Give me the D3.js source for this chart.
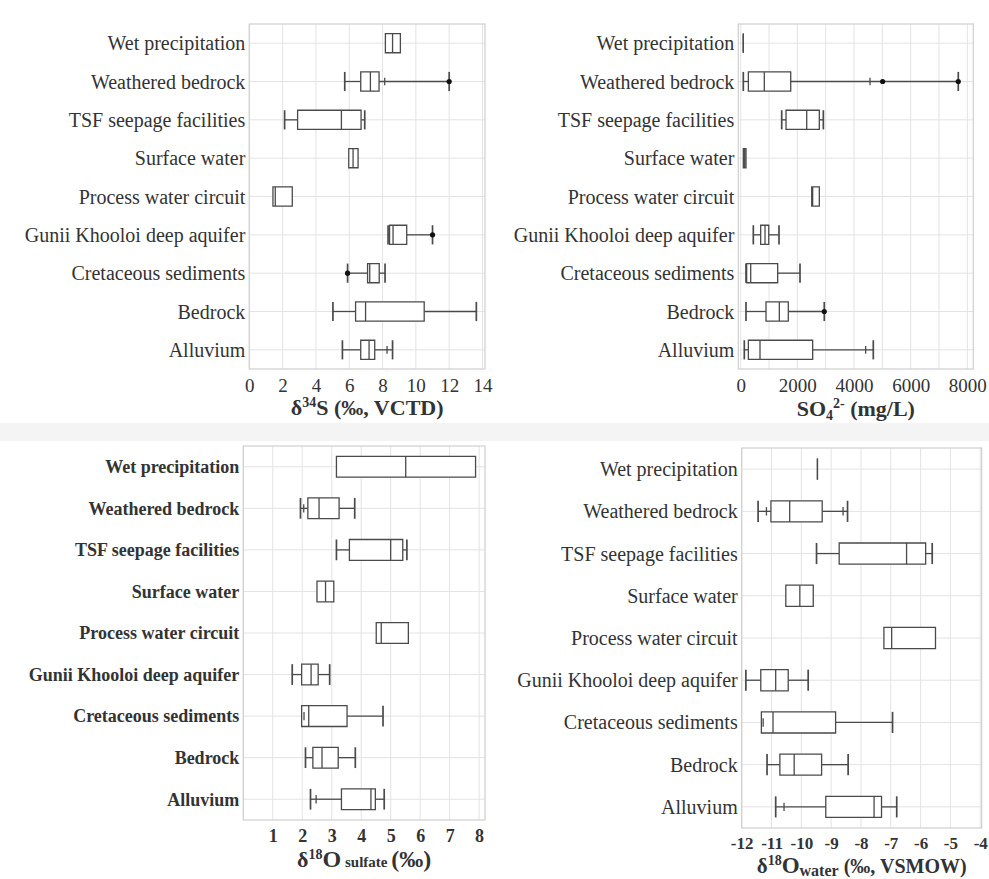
<!DOCTYPE html>
<html><head><meta charset="utf-8">
<script src="https://cdn.jsdelivr.net/npm/d3@7"></script>
<style>body{margin:0;background:#fff}svg{display:block}</style>
</head><body>
<svg id="chart" width="989" height="879"></svg>
<script>
const categories = ["Wet precipitation","Weathered bedrock","TSF seepage facilities","Surface water","Process water circuit","Gunii Khooloi deep aquifer","Cretaceous sediments","Bedrock","Alluvium"];

// Panel 1: d34S
const s34Ticks = [0,2,4,6,8,10,12,14];
const s34Lo  = [null, 5.73, 2.12, null, null, 8.33, 5.9, 5.02, 5.59];
const s34Q1  = [8.17, 6.69, 2.9, 5.97, 1.42, 8.42, 7.1, 6.38, 6.69];
const s34Med = [8.6, 7.27, 5.53, 6.23, 1.56, 8.63, 7.23, 6.98, 7.19];
const s34Q3  = [9.07, 7.79, 6.71, 6.53, 2.58, 9.45, 7.8, 10.5, 7.53];
const s34Hi  = [null, 12.0, 6.93, null, null, 11.0, 8.15, 13.63, 8.6];
const s34Dots = [[], [12.0], [], [], [], [11.0], [5.9], [], []];
const s34Marks = [[], [8.13], [], [], [], [], [], [], [8.27]];

// Panel 2: SO4
const so4Ticks = [0,2000,4000,6000,8000];
const so4Grid = [0,1000,2000,3000,4000,5000,6000,7000,8000];
const so4Lo  = [null, 92, 1447, null, null, 445, 187, 187, 127];
const so4Q1  = [90, 270, 1600, 92, 2506, 705, 210, 893, 270];
const so4Med = [90, 833, 2330, 140, 2540, 858, 353, 1363, 681];
const so4Q3  = [90, 1765, 2775, 187, 2775, 990, 1305, 1680, 2540];
const so4Hi  = [null, 7680, 2917, null, null, 1352, 2093, 2950, 4680];
const so4Dots = [[], [5010, 7680], [], [], [], [], [], [2950], []];
const so4Marks = [[], [4565], [], [], [], [], [], [], [4410]];

// Panel 3: d18O sulfate
const o18sTicks = [1,2,3,4,5,6,7,8];
const o18sGrid = [0,1,2,3,4,5,6,7,8];
const o18sLo  = [null, 1.94, 3.16, null, null, 1.66, null, 2.11, 2.28];
const o18sQ1  = [3.16, 2.19, 3.6, 2.5, 4.51, 1.98, 1.98, 2.36, 3.33];
const o18sMed = [5.51, 2.57, 5.0, 2.79, 4.68, 2.3, 2.22, 2.67, 4.33];
const o18sQ3  = [7.88, 3.25, 5.41, 3.07, 5.6, 2.54, 3.52, 3.22, 4.48];
const o18sHi  = [null, 3.78, 5.55, null, null, 2.93, 4.74, 3.8, 4.78];
const o18sDots = [[], [], [], [], [], [], [], [], []];
const o18sMarks = [[], [2.05], [], [], [], [], [2.06], [], [2.47]];

// Panel 4: d18O water
const o18wTicks = [-12,-11,-10,-9,-8,-7,-6,-5,-4];
const o18wLo  = [null, -11.45, -9.49, null, null, -11.86, null, -11.15, -10.86];
const o18wQ1  = [-9.46, -11.02, -8.73, -10.52, -7.23, -11.36, -11.34, -10.72, -9.18];
const o18wMed = [-9.46, -10.39, -6.47, -10.05, -6.97, -10.86, -10.95, -10.24, -7.56];
const o18wQ3  = [-9.46, -9.30, -5.83, -9.6, -5.5, -10.44, -8.85, -9.32, -7.31];
const o18wHi  = [null, -8.45, -5.61, null, null, -9.77, -6.94, -8.43, -6.8];
const o18wDots = [[], [], [], [], [], [], [], [], []];
const o18wMarks = [[], [-11.17, -8.6], [], [], [], [], [-11.28], [], [-10.58]];

const svg = d3.select("#chart");
const FONT = "'Liberation Serif', 'DejaVu Serif', serif";
const TXT = "#333";

svg.append("rect").attr("x",0).attr("y",423).attr("width",989).attr("height",18).attr("fill","#f4f4f4");

function panel(o){
  const g = svg.append("g");
  const x = d3.scaleLinear().domain(o.domain).range([o.left, o.right]);
  const y = d3.scaleBand().domain(categories).range([o.top, o.bottom]);
  const bw = y.bandwidth();
  const cy = c => y(c) + bw/2;
  const bh = bw*0.5;
  g.append("rect").attr("x",o.left).attr("y",o.top).attr("width",o.right-o.left).attr("height",o.bottom-o.top)
    .attr("fill","#fff").attr("stroke","none");
  g.selectAll(".vg").data(o.grid).join("line")
    .attr("x1",d=>x(d)).attr("x2",d=>x(d)).attr("y1",o.top).attr("y2",o.bottom)
    .attr("stroke","#e3e3e3").attr("stroke-width",1);
  g.selectAll(".hg").data(categories).join("line")
    .attr("x1",o.left).attr("x2",o.right).attr("y1",d=>cy(d)).attr("y2",d=>cy(d))
    .attr("stroke","#e3e3e3").attr("stroke-width",1);
  g.append("rect").attr("x",o.left).attr("y",o.top).attr("width",o.right-o.left).attr("height",o.bottom-o.top)
    .attr("fill","none").attr("stroke","#cfcfcf").attr("stroke-width",1.2);
  const ax = d3.axisBottom(x).tickValues(o.ticks).tickSize(0).tickPadding(0).tickFormat(d=>String(d));
  const axg = g.append("g").attr("transform",`translate(0,${o.bottom})`).call(ax);
  axg.select(".domain").remove();
  axg.selectAll("text").attr("font-family",FONT).attr("font-size",o.tickSize).attr("font-weight",o.tickBold?"bold":"normal")
    .attr("fill",TXT).attr("dy",null).attr("y",o.tickY);
  g.selectAll(".lab").data(categories).join("text")
    .attr("x",o.left-4).attr("y",d=>cy(d)).attr("dy","0.35em").attr("text-anchor","end")
    .attr("font-family",FONT).attr("font-size",o.labSize).attr("font-weight",o.labBold?"bold":"normal")
    .attr("fill",TXT).text(d=>d);
  const st = "#4a4a4a", sw = 1.3;
  categories.forEach((c,i)=>{
    const yc = cy(c);
    if (o.lo[i]!=null){
      g.append("line").attr("x1",x(o.lo[i])).attr("x2",x(o.q1[i])).attr("y1",yc).attr("y2",yc).attr("stroke",st).attr("stroke-width",sw);
      g.append("line").attr("x1",x(o.lo[i])).attr("x2",x(o.lo[i])).attr("y1",yc-bh/2).attr("y2",yc+bh/2).attr("stroke",st).attr("stroke-width",sw+0.4);
    }
    if (o.hi[i]!=null){
      g.append("line").attr("x1",x(o.q3[i])).attr("x2",x(o.hi[i])).attr("y1",yc).attr("y2",yc).attr("stroke",st).attr("stroke-width",sw);
      g.append("line").attr("x1",x(o.hi[i])).attr("x2",x(o.hi[i])).attr("y1",yc-bh/2).attr("y2",yc+bh/2).attr("stroke",st).attr("stroke-width",sw+0.4);
    }
    const x1 = x(o.q1[i]), x2 = x(o.q3[i]);
    g.append("path").attr("d",`M${x1},${yc-bh/2}H${x2}V${yc+bh/2}H${x1}Z`)
      .attr("fill", (o.shade && o.shade[i]) ? "#b0b0b0" : "#fff").attr("stroke",st).attr("stroke-width",sw);
    g.append("line").attr("x1",x(o.med[i])).attr("x2",x(o.med[i])).attr("y1",yc-bh/2).attr("y2",yc+bh/2).attr("stroke",st).attr("stroke-width",sw);
    o.marks[i].forEach(v=>{
      g.append("line").attr("x1",x(v)).attr("x2",x(v)).attr("y1",yc-bh*0.2).attr("y2",yc+bh*0.2).attr("stroke",st).attr("stroke-width",sw);
    });
    o.dots[i].forEach(v=>{
      g.append("circle").attr("cx",x(v)).attr("cy",yc).attr("r",2.6).attr("fill","#111");
    });
  });
  const t = g.append("text").attr("x",(o.left+o.right)/2).attr("y",o.titleY).attr("text-anchor","middle")
    .attr("font-family",FONT).attr("font-weight","bold").attr("fill",TXT);
  o.title(t);
}

panel({left:249.3,right:485,top:24,bottom:369,domain:[0,14.15],ticks:s34Ticks,grid:s34Ticks,
  lo:s34Lo,q1:s34Q1,med:s34Med,q3:s34Q3,hi:s34Hi,dots:s34Dots,marks:s34Marks,
  labBold:false,tickBold:false,labSize:20,tickSize:19,tickY:23,titleY:415,
  title:t=>{t.attr("font-size",22);t.append("tspan").text("δ");t.append("tspan").attr("font-size",14).attr("dy",-8).text("34");
    t.append("tspan").attr("dy",8).text("S (‰, VCTD)");}});

panel({left:738.3,right:973.3,top:24,bottom:369,domain:[-85,8210],ticks:so4Ticks,grid:so4Grid,
  lo:so4Lo,q1:so4Q1,med:so4Med,q3:so4Q3,hi:so4Hi,dots:so4Dots,marks:so4Marks,shade:[0,0,0,1,0,0,0,0,0],
  labBold:false,tickBold:false,labSize:20,tickSize:19,tickY:23,titleY:416,
  title:t=>{t.attr("font-size",22);t.append("tspan").text("SO");t.append("tspan").attr("font-size",14).attr("dy",4).text("4");
    t.append("tspan").attr("font-size",14).attr("dy",-12).text("2-");
    t.append("tspan").attr("dy",8).text(" (mg/L)");}});

panel({left:243.3,right:485,top:446,bottom:820,domain:[0,8.2],ticks:o18sTicks,grid:o18sGrid,
  lo:o18sLo,q1:o18sQ1,med:o18sMed,q3:o18sQ3,hi:o18sHi,dots:o18sDots,marks:o18sMarks,
  labBold:true,tickBold:true,labSize:18,tickSize:18,tickY:22,titleY:867,
  title:t=>{t.attr("font-size",22);t.append("tspan").text("δ");t.append("tspan").attr("font-size",14).attr("dy",-8).text("18");
    t.append("tspan").attr("dy",8).attr("font-size",24).text("O");
    t.append("tspan").attr("font-size",15).text(" sulfate ");
    t.append("tspan").attr("font-size",24).text("(‰)");}});

panel({left:741.7,right:981.7,top:448,bottom:828,domain:[-12,-3.95],ticks:o18wTicks,grid:o18wTicks,
  lo:o18wLo,q1:o18wQ1,med:o18wMed,q3:o18wQ3,hi:o18wHi,dots:o18wDots,marks:o18wMarks,
  labBold:false,tickBold:true,labSize:20,tickSize:17,tickY:21,titleY:873,
  title:t=>{t.attr("font-size",21);t.append("tspan").text("δ");t.append("tspan").attr("font-size",14).attr("dy",-8).text("18");
    t.append("tspan").attr("dy",8).attr("font-size",23).text("O");
    t.append("tspan").attr("font-size",16).attr("dy",3).text("water");
    t.append("tspan").attr("font-size",20).attr("dy",-3).text("  (‰, VSMOW)");}});
</script>
</body></html>
